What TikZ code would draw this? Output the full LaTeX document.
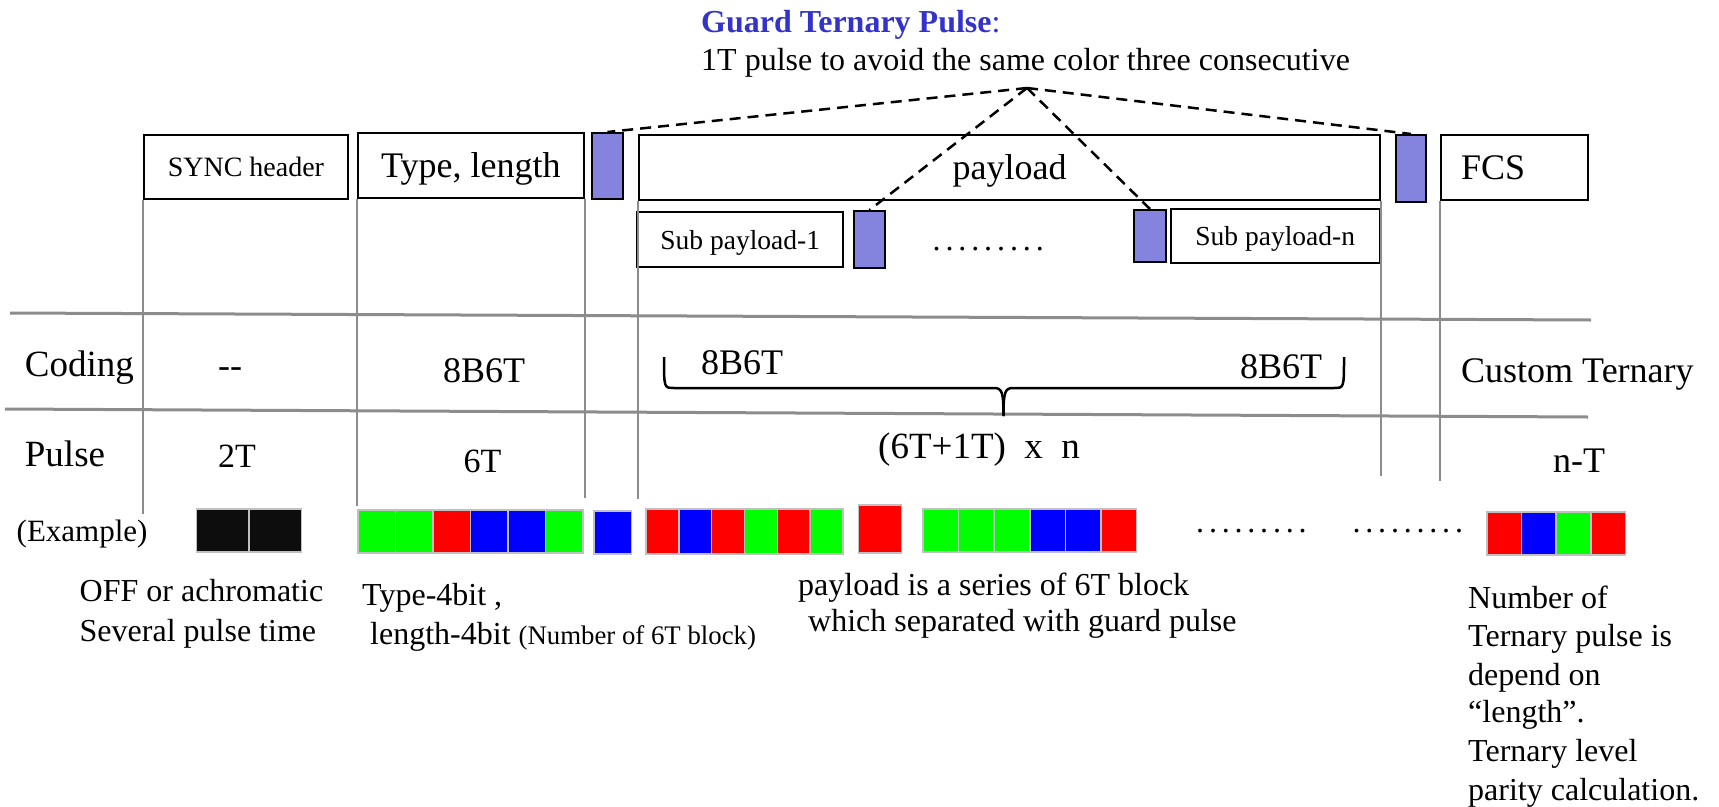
\documentclass[tikz,border=0pt]{standalone}
\usepackage{fontspec}
\setmainfont{Liberation Serif}
\definecolor{guardc}{RGB}{132,132,222}
\definecolor{titleblue}{RGB}{51,51,204}
\definecolor{linegray}{RGB}{140,140,140}
\definecolor{cellgray}{RGB}{192,192,192}
\definecolor{pG}{RGB}{0,255,0}
\definecolor{pR}{RGB}{255,0,0}
\definecolor{pB}{RGB}{0,0,255}
\definecolor{pK}{RGB}{13,13,13}
\newcommand\fsz[1]{\fontsize{#1}{#1}\selectfont}
\newcommand\ninedots[1]{\foreach \k in {1,...,9}{\makebox[#1][c]{.}}}
\tikzset{
  box/.style={draw=black, line width=2pt, inner sep=0pt, text depth=0pt},
  guard/.style={draw=black, line width=2pt, fill=guardc, inner sep=0pt},
  vline/.style={draw=linegray, line width=2pt},
  hline/.style={draw=linegray, line width=3pt},
  cell/.style={draw=cellgray, line width=1.5pt},
  dashl/.style={draw=black, line width=2.5pt, dash pattern=on 11pt off 7pt},
  txt/.style={inner sep=0pt, anchor=base west},
}
\begin{document}
\begin{tikzpicture}[x=1pt,y=-1pt]
\useasboundingbox (0,0) rectangle (1719,806);

% title
\node[txt, text=titleblue, font=\fsz{32}] (title) at (701,32) {\textbf{Guard Ternary Pulse}:};
\node[txt, font=\fsz{32}] (subtitle) at (701,70.7) {1T pulse to avoid the same color three consecutive};

% top boxes
\node[box, minimum width=204.3pt, minimum height=64pt, font=\fsz{28}] (sync) at (245.9,167) {SYNC header};
\node[box, minimum width=226.4pt, minimum height=65pt, font=\fsz{36}] (type) at (470.8,165.5) {Type, length};
\node[box, minimum width=741pt, minimum height=65pt, font=\fsz{36}] (payload) at (1009.5,167.5) {payload};
\node[box, minimum height=65pt, inner xsep=20pt, text width=107pt, align=left, font=\fsz{36}] (fcs) at (1514.5,167.5) {FCS};
\node[box, minimum width=205.6pt, minimum height=55pt, font=\fsz{27.5}] (sub1) at (740.2,239.5) {Sub payload-1};
\node[box, minimum width=208.5pt, minimum height=54pt, font=\fsz{27.5}] (subn) at (1275.25,236) {Sub payload-n};

% guard pulses
\node[guard, minimum width=30.2pt, minimum height=66pt] (g1) at (607.5,166) {};
\node[guard, minimum width=31pt, minimum height=57pt] (g2) at (869.5,239.5) {};
\node[guard, minimum width=32pt, minimum height=52pt] (g3) at (1150,236) {};
\node[guard, minimum width=30pt, minimum height=67pt] (g4) at (1411,168.5) {};

\node[txt, font=\fsz{32}] (dotsa) at (930,250) {\ninedots{12.9pt}};

% dashed connectors
\coordinate (apex) at (1027,88);
\draw[dashl] (apex) -- (g1.north);
\draw[dashl] (apex) -- (g4.north);
\draw[dashl] (apex) -- (g2.north);
\draw[dashl] (apex) -- (g3.north);

% grid lines
\coordinate (h1a) at (10,313);
\coordinate (h1b) at (1591,320);
\coordinate (h2a) at (5,409);
\coordinate (h2b) at (1588,417);
\draw[hline] (h1a) -- (h1b);
\draw[hline] (h2a) -- (h2b);
\draw[vline] (sync.south west) -- ++(0,314);
\draw[vline] (type.south west) -- ++(0,307);
\draw[vline] (type.south east) -- ++(0,299);
\draw[vline] (payload.south west) -- ++(0,298);
\draw[vline] (payload.south east) -- ++(0,275);
\draw[vline] (fcs.south west) -- ++(0,280);

% coding row
\node[txt, font=\fsz{37}] (coding) at (24.7,376.7) {Coding};
\node[txt, font=\fsz{36}] (cdash) at (218,377) {-{}-};
\node[txt, font=\fsz{36}] (ctype) at (443,382) {8B6T};
\node[txt, font=\fsz{36}] (cpl) at (701,374) {8B6T};
\node[txt, font=\fsz{36}] (cpr) at (1240,378) {8B6T};
\node[txt, font=\fsz{36}] (cfcs) at (1461,382) {Custom Ternary};

% brace
\draw[line width=2.5pt] (664,357) .. controls (664,388) and (664,388) .. (674,388) -- (994,388)
  .. controls (1002,388) and (1003.5,392) .. (1003.5,416);
\draw[line width=2.5pt] (1344,357) .. controls (1344,388) and (1344,388) .. (1334,388) -- (1013,388)
  .. controls (1005,388) and (1003.5,392) .. (1003.5,416);

% pulse row
\node[txt, font=\fsz{37}] (pulse) at (24.7,466.7) {Pulse};
\node[txt, font=\fsz{34}] (p2t) at (218,467) {2T};
\node[txt, font=\fsz{34}] (p6t) at (463.5,472) {6T};
\node[txt, font=\fsz{37}] (ppl) at (878,458) {(6T+1T)\ \ x\ \ n};
\node[txt, font=\fsz{36}] (pnt) at (1553,472) {n-T};

% example row
\node[txt, font=\fsz{31}] (example) at (16.5,541.7) {(Example)};
\foreach \c [count=\i from 0] in {K,K}
  \draw[cell, fill=p\c] ({196.4+\i*52.65},509) rectangle ++(52.65,43);
\foreach \c [count=\i from 0] in {G,G,R,B,B,G}
  \draw[cell, fill=p\c] ({358+\i*37.5},510) rectangle ++(37.5,43);
\draw[cell, fill=pB] (594,511) rectangle (631.4,554);
\foreach \c [count=\i from 0] in {R,B,R,G,R,G}
  \draw[cell, fill=p\c] ({646+\i*32.83},509) rectangle ++(32.83,45);
\draw[cell, fill=pR] (858.5,505) rectangle (901.6,553);
\foreach \c [count=\i from 0] in {G,G,G,B,B,R}
  \draw[cell, fill=p\c] ({923+\i*35.6},509) rectangle ++(35.6,43);
\node[txt, font=\fsz{32}] (dotsb) at (1193.6,532) {\ninedots{12.8pt}};
\node[txt, font=\fsz{32}] (dotsc) at (1350,532) {\ninedots{12.8pt}};
\foreach \c [count=\i from 0] in {R,B,G,R}
  \draw[cell, fill=p\c] ({1487+\i*34.6},512) rectangle ++(34.6,43);

% descriptions
\node[txt, font=\fsz{32}] (d1a) at (79.5,601.7) {OFF or achromatic};
\node[txt, font=\fsz{32}] (d1b) at (79.5,641.7) {Several pulse time};
\node[txt, font=\fsz{32}] (d2a) at (362,605) {Type-4bit ,};
\node[txt, font=\fsz{32}] (d2b) at (370,644) {length-4bit {\fsz{26.8}(Number of 6T block)}};
\node[txt, font=\fsz{32}] (d3a) at (798,595) {payload is a series of 6T block};
\node[txt, font=\fsz{32}] (d3b) at (808,631.7) {which separated with guard pulse};
\node[txt, font=\fsz{32}] (d4a) at (1468,608) {Number of};
\node[txt, font=\fsz{32}] (d4b) at (1468,646.7) {Ternary pulse is};
\node[txt, font=\fsz{32}] (d4c) at (1468,685) {depend on};
\node[txt, font=\fsz{32}] (d4d) at (1468,722.7) {“length”.};
\node[txt, font=\fsz{32}] (d4e) at (1468,761.7) {Ternary level};
\node[txt, font=\fsz{32}] (d4f) at (1468,800) {parity calculation.};
\end{tikzpicture}
\end{document}
